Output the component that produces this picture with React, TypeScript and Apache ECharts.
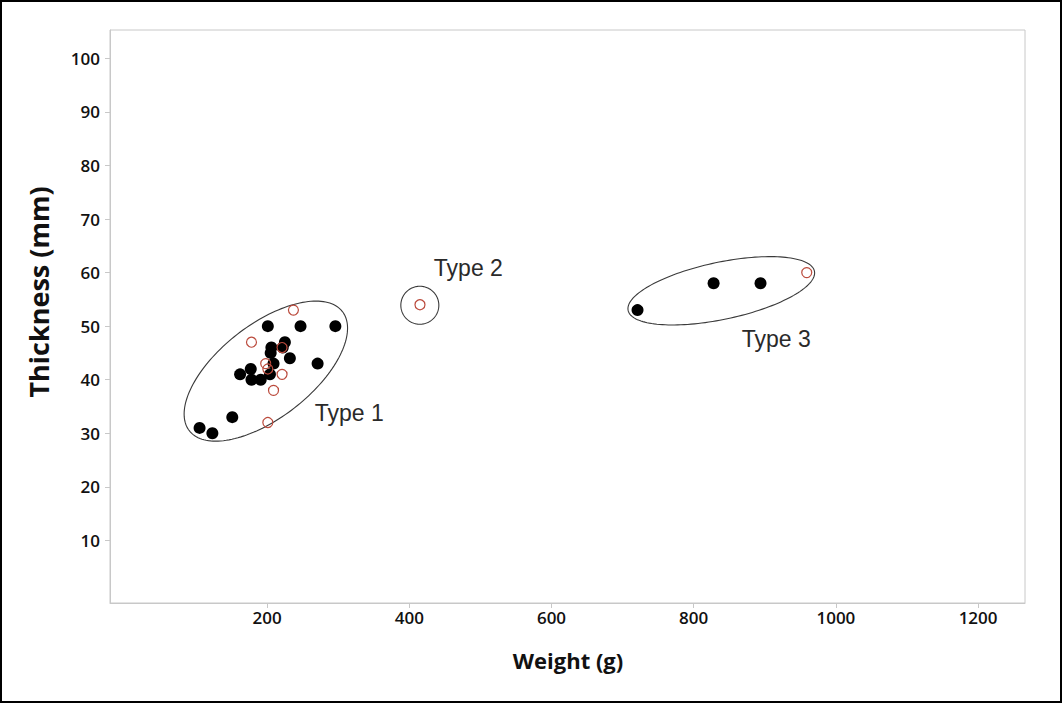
import React, { useEffect, useRef } from "react";
import * as echarts from "echarts";

// Weight (g), Thickness (mm)
const filledPoints: number[][] = [
  [201, 50], [247, 50], [296, 50], [225, 47], [222, 46], [206, 46], [205, 45],
  [232, 44], [209, 43], [271, 43], [177, 42], [162, 41], [178, 40], [191, 40],
  [204, 41], [151, 33], [105, 31], [123, 30], [721, 53], [828, 58], [894, 58],
];
const hollowPoints: number[][] = [
  [237, 53], [178, 47], [221, 46], [198, 43], [201, 42], [221, 41], [209, 38],
  [201, 32], [415, 54], [959, 60],
];
const xTicks = [200, 400, 600, 800, 1000, 1200];
const yTicks = [10, 20, 30, 40, 50, 60, 70, 80, 90, 100];

// group annotations (centre in data units)
const groupCenters: number[][] = [[198.2, 41.6], [414.8, 53.9], [838.8, 56.6]];
const groupLabels = ["Type 1", "Type 2", "Type 3"];
const labelAnchors: number[][] = [[267, 33.8], [434.5, 60.8], [867.6, 47.6]];
// ellipse shape: semi-axes in px and rotation in degrees
const ellipseShapes = [
  { a: 97, b: 46.6, angle: 37.9 },
  { a: 19, b: 19, angle: 0 },
  { a: 95.2, b: 28.6, angle: 11.9 },
];

const TICK_FONT = "'Open Sans', 'Noto Sans', sans-serif";

export default function App() {
  const ref = useRef<HTMLDivElement>(null);
  useEffect(() => {
    if (!ref.current) return;
    const chart = echarts.init(ref.current, undefined, { renderer: "svg" });
    chart.setOption({
      animation: false,
      backgroundColor: "#ffffff",
      grid: {
        left: 110,
        top: 30,
        right: 38,
        bottom: 101,
        show: true,
        borderColor: "#c8c8c8",
        borderWidth: 1,
        containLabel: false,
      },
      xAxis: {
        type: "value",
        min: -21,
        max: 1266,
        splitLine: { show: false },
        axisLine: { show: true, onZero: false, lineStyle: { color: "#c8c8c8", width: 1 } },
        axisTick: { show: true, length: 5, customValues: xTicks, lineStyle: { color: "#c8c8c8" } },
        axisLabel: {
          customValues: xTicks,
          formatter: (v: number) => String(v),
          margin: 6,
          color: "#111",
          fontSize: 17,
          fontWeight: 600,
          fontFamily: TICK_FONT,
        },
      },
      yAxis: {
        type: "value",
        min: -1.7,
        max: 105.3,
        splitLine: { show: false },
        axisLine: { show: true, onZero: false, lineStyle: { color: "#c8c8c8", width: 1 } },
        axisTick: { show: true, length: 5, customValues: yTicks, lineStyle: { color: "#c8c8c8" } },
        axisLabel: {
          customValues: yTicks,
          formatter: (v: number) => String(v),
          margin: 10,
          color: "#111",
          fontSize: 17,
          fontWeight: 600,
          fontFamily: TICK_FONT,
        },
      },
      graphic: [
        {
          type: "rect",
          shape: { x: 1, y: 1, width: 1060, height: 701 },
          style: { fill: "none", stroke: "#000", lineWidth: 2 },
          silent: true,
        },
        {
          type: "text",
          x: 38,
          y: 292,
          rotation: Math.PI / 2,
          style: {
            text: "Thickness (mm)",
            fontSize: 27,
            fontWeight: "bold",
            fontFamily: TICK_FONT,
            fill: "#111",
            align: "center",
            verticalAlign: "middle",
          },
        },
        {
          type: "text",
          x: 568,
          y: 660,
          style: {
            text: "Weight (g)",
            fontSize: 22,
            fontWeight: "bold",
            fontFamily: TICK_FONT,
            fill: "#111",
            align: "center",
            verticalAlign: "middle",
          },
        },
      ],
      series: [
        {
          type: "custom",
          silent: true,
          z: 1,
          data: groupCenters,
          renderItem: (params: any, api: any) => {
            const e = ellipseShapes[params.dataIndex];
            const c = api.coord([api.value(0), api.value(1)]);
            const th = (e.angle * Math.PI) / 180;
            const pts: number[][] = [];
            const n = 160;
            for (let i = 0; i <= n; i++) {
              const t = (i / n) * Math.PI * 2;
              const ex = e.a * Math.cos(t);
              const ey = e.b * Math.sin(t);
              pts.push([
                c[0] + ex * Math.cos(th) + ey * Math.sin(th),
                c[1] - ex * Math.sin(th) + ey * Math.cos(th),
              ]);
            }
            return {
              type: "polygon",
              shape: { points: pts },
              style: { fill: "none", stroke: "#3a3a3a", lineWidth: 1.1 },
            };
          },
        },
        {
          type: "custom",
          silent: true,
          z: 1,
          data: labelAnchors,
          renderItem: (params: any, api: any) => {
            const c = api.coord([api.value(0), api.value(1)]);
            return {
              type: "text",
              x: c[0],
              y: c[1],
              style: {
                text: groupLabels[params.dataIndex],
                fontSize: 23,
                fontFamily: "'Liberation Sans', Arial, sans-serif",
                fill: "#2a2a2a",
                align: "left",
                verticalAlign: "middle",
              },
            };
          },
        },
        {
          type: "scatter",
          z: 3,
          symbol: "circle",
          symbolSize: 12,
          data: filledPoints,
          itemStyle: { color: "#000000", opacity: 1 },
          emphasis: { disabled: true },
        },
        {
          type: "scatter",
          z: 4,
          symbol: "circle",
          symbolSize: 10,
          data: hollowPoints,
          itemStyle: {
            color: "rgba(255,255,255,0)",
            borderColor: "#bb4a3c",
            borderWidth: 1.2,
            opacity: 1,
          },
          emphasis: { disabled: true },
        },
      ],
    });
    return () => chart.dispose();
  }, []);
  return (
    <div
      ref={ref}
      style={{ position: "fixed", left: 0, top: 0, width: 1063, height: 704 }}
    />
  );
}
